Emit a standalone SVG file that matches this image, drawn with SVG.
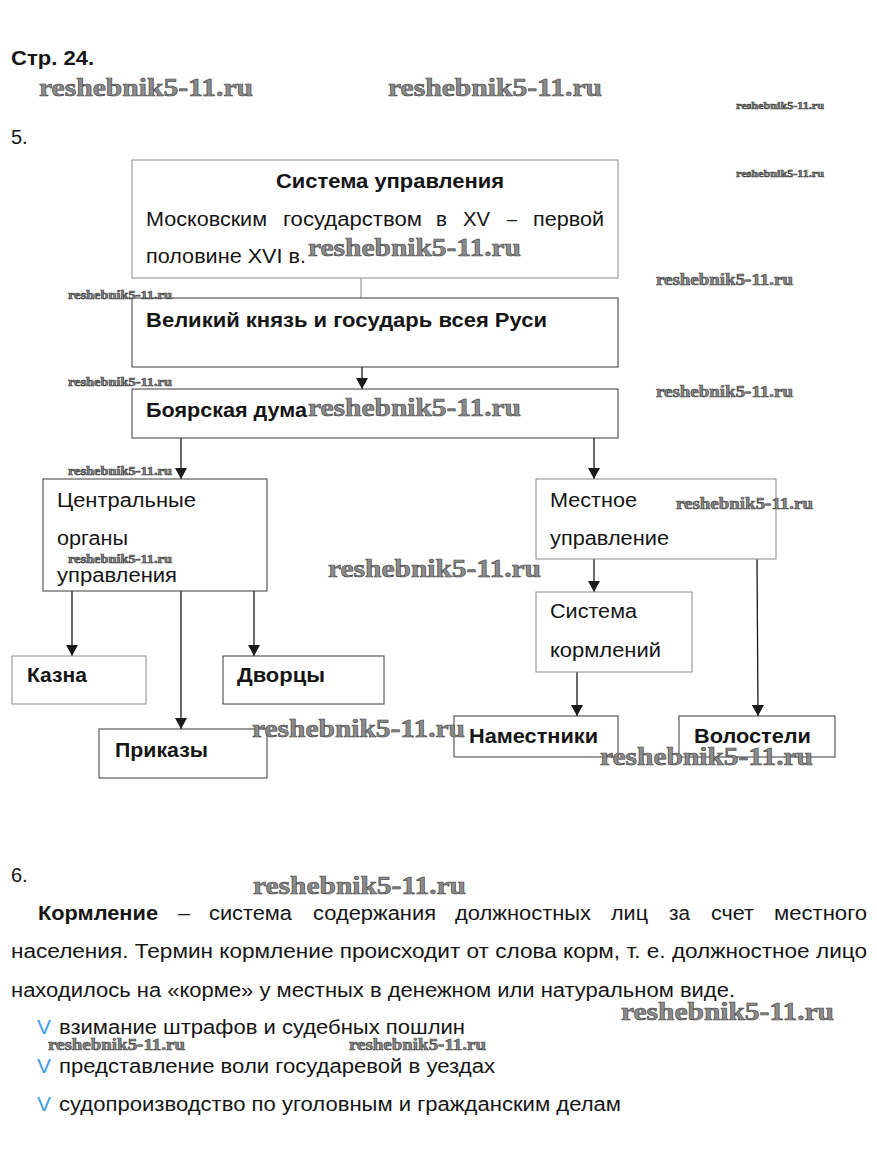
<svg xmlns="http://www.w3.org/2000/svg" width="877" height="1165" viewBox="0 0 877 1165">
<style>
.t{font-family:"Liberation Sans",Arial,sans-serif;font-size:20px;fill:#151515}
.b{font-weight:bold}
.box{fill:#fff;stroke:#3a3a3a;stroke-width:1}
.gbox{fill:#fff;stroke:#8a8a8a;stroke-width:1}
.c{stroke:#1a1a1a;stroke-width:1.3;fill:none}
.wm{font-family:"Liberation Serif","DejaVu Serif",serif;font-weight:bold;fill:#8c8c8c;stroke:#404040;stroke-width:0.6}
.v{font-family:"Liberation Sans",Arial,sans-serif;font-size:21px;fill:#3d9ee0}
</style>
<defs>
<marker id="ah" markerUnits="userSpaceOnUse" markerWidth="11" markerHeight="12" refX="11" refY="6" orient="auto">
<path d="M0,0 L11,6 L0,12 z" fill="#1a1a1a"/>
</marker>
</defs>
<rect width="877" height="1165" fill="#fff"/>

<text class="t b" x="11" y="65" textLength="83" lengthAdjust="spacingAndGlyphs">Стр. 24.</text>
<text class="t" x="11" y="144">5.</text>
<text class="t" x="11" y="882">6.</text>

<g id="connectors">
<line x1="361" y1="278" x2="361" y2="298" stroke="#888" stroke-width="1"/>
<line class="c" x1="362" y1="367" x2="362" y2="389" marker-end="url(#ah)"/>
<line class="c" x1="181" y1="438" x2="181" y2="479" marker-end="url(#ah)"/>
<line class="c" x1="594" y1="438" x2="594" y2="479" marker-end="url(#ah)"/>
<line class="c" x1="72" y1="591" x2="72" y2="656" marker-end="url(#ah)"/>
<line class="c" x1="181" y1="591" x2="181" y2="729" marker-end="url(#ah)"/>
<line class="c" x1="254" y1="591" x2="254" y2="656" marker-end="url(#ah)"/>
<line class="c" x1="594" y1="559" x2="594" y2="592" marker-end="url(#ah)"/>
<line class="c" x1="577" y1="672" x2="577" y2="716" marker-end="url(#ah)"/>
<line class="c" x1="757" y1="559" x2="758" y2="716" marker-end="url(#ah)"/>
</g>

<g id="n-title">
<rect class="gbox" x="132" y="160" width="486" height="118"/>
<text class="t b" x="276" y="188" textLength="228" lengthAdjust="spacingAndGlyphs">Система управления</text>
<text class="t" x="146" y="226" textLength="121" lengthAdjust="spacingAndGlyphs">Московским</text>
<text class="t" x="283" y="226" textLength="139" lengthAdjust="spacingAndGlyphs">государством</text>
<text class="t" x="436" y="226" textLength="11" lengthAdjust="spacingAndGlyphs">в</text>
<text class="t" x="463" y="226" textLength="27" lengthAdjust="spacingAndGlyphs">XV</text>
<text class="t" x="507" y="226" textLength="10" lengthAdjust="spacingAndGlyphs">–</text>
<text class="t" x="533" y="226" textLength="71" lengthAdjust="spacingAndGlyphs">первой</text>
<text class="t" x="146" y="263" textLength="160" lengthAdjust="spacingAndGlyphs">половине XVI в.</text>
</g>

<g id="n-grandprince">
<rect class="box" x="132" y="298" width="486" height="69"/>
<text class="t b" x="146" y="327" textLength="401" lengthAdjust="spacingAndGlyphs">Великий князь и государь всея Руси</text>
</g>

<g id="n-duma">
<rect class="box" x="132" y="389" width="486" height="49"/>
<text class="t b" x="146" y="417" textLength="161" lengthAdjust="spacingAndGlyphs">Боярская дума</text>
</g>

<g id="n-central">
<rect class="box" x="43" y="479" width="224" height="112"/>
<text class="t" x="57" y="507" textLength="139" lengthAdjust="spacingAndGlyphs">Центральные</text>
<text class="t" x="57" y="545" textLength="71" lengthAdjust="spacingAndGlyphs">органы</text>
<text class="t" x="57" y="582" textLength="120" lengthAdjust="spacingAndGlyphs">управления</text>
</g>

<g id="n-local">
<rect class="gbox" x="536" y="479" width="240" height="80"/>
<text class="t" x="550" y="507" textLength="87" lengthAdjust="spacingAndGlyphs">Местное</text>
<text class="t" x="550" y="545" textLength="119" lengthAdjust="spacingAndGlyphs">управление</text>
</g>

<g id="n-kazna">
<rect class="gbox" x="12" y="656" width="134" height="48"/>
<text class="t b" x="27" y="682" textLength="60" lengthAdjust="spacingAndGlyphs">Казна</text>
</g>

<g id="n-dvortsy">
<rect class="box" x="223" y="656" width="161" height="48"/>
<text class="t b" x="237" y="682" textLength="88" lengthAdjust="spacingAndGlyphs">Дворцы</text>
</g>

<g id="n-prikazy">
<rect class="box" x="99" y="729" width="168" height="49"/>
<text class="t b" x="115" y="757" textLength="93" lengthAdjust="spacingAndGlyphs">Приказы</text>
</g>

<g id="n-kormlenie">
<rect class="gbox" x="536" y="592" width="156" height="80"/>
<text class="t" x="550" y="618" textLength="87" lengthAdjust="spacingAndGlyphs">Система</text>
<text class="t" x="550" y="657" textLength="111" lengthAdjust="spacingAndGlyphs">кормлений</text>
</g>

<g id="n-namestniki">
<rect class="box" x="454" y="716" width="164" height="41"/>
<text class="t b" x="469" y="743" textLength="129" lengthAdjust="spacingAndGlyphs">Наместники</text>
</g>

<g id="n-volosteli">
<rect class="box" x="679" y="716" width="156" height="41"/>
<text class="t b" x="694" y="743" textLength="117" lengthAdjust="spacingAndGlyphs">Волостели</text>
</g>

<g id="text6">
<text class="t b" x="38" y="920" font-size="21" textLength="120" lengthAdjust="spacingAndGlyphs">Кормление</text>
<text class="t" x="178" y="920" font-size="21" textLength="12" lengthAdjust="spacingAndGlyphs">–</text>
<text class="t" x="209" y="920" font-size="21" textLength="83" lengthAdjust="spacingAndGlyphs">система</text>
<text class="t" x="313" y="920" font-size="21" textLength="123" lengthAdjust="spacingAndGlyphs">содержания</text>
<text class="t" x="455" y="920" font-size="21" textLength="136" lengthAdjust="spacingAndGlyphs">должностных</text>
<text class="t" x="611" y="920" font-size="21" textLength="37" lengthAdjust="spacingAndGlyphs">лиц</text>
<text class="t" x="669" y="920" font-size="21" textLength="21" lengthAdjust="spacingAndGlyphs">за</text>
<text class="t" x="711" y="920" font-size="21" textLength="43" lengthAdjust="spacingAndGlyphs">счет</text>
<text class="t" x="774" y="920" font-size="21" textLength="93" lengthAdjust="spacingAndGlyphs">местного</text>
<text class="t" x="11" y="958" font-size="21" textLength="856" lengthAdjust="spacingAndGlyphs">населения. Термин кормление происходит от слова корм, т. е. должностное лицо</text>
<text class="t" x="11" y="997" font-size="21" textLength="724" lengthAdjust="spacingAndGlyphs">находилось на «корме» у местных в денежном или натуральном виде.</text>
<text class="v" x="37" y="1034">V</text>
<text class="t" x="59" y="1034" font-size="21" textLength="406" lengthAdjust="spacingAndGlyphs">взимание штрафов и судебных пошлин</text>
<text class="v" x="37" y="1073">V</text>
<text class="t" x="59" y="1073" font-size="21" textLength="436" lengthAdjust="spacingAndGlyphs">представление воли государевой в уездах</text>
<text class="v" x="37" y="1111">V</text>
<text class="t" x="59" y="1111" font-size="21" textLength="562" lengthAdjust="spacingAndGlyphs">судопроизводство по уголовным и гражданским делам</text>
</g>

<g id="watermarks">
<text class="wm" x="39" y="96" font-size="26" textLength="214" lengthAdjust="spacingAndGlyphs">reshebnik5-11.ru</text>
<text class="wm" x="388" y="96" font-size="26" textLength="214" lengthAdjust="spacingAndGlyphs">reshebnik5-11.ru</text>
<text class="wm" x="736" y="109" font-size="11" stroke-width="0.3" textLength="88" lengthAdjust="spacingAndGlyphs">reshebnik5-11.ru</text>
<text class="wm" x="736" y="177" font-size="11" stroke-width="0.3" textLength="88" lengthAdjust="spacingAndGlyphs">reshebnik5-11.ru</text>
<text class="wm" x="308" y="256" font-size="26" textLength="213" lengthAdjust="spacingAndGlyphs">reshebnik5-11.ru</text>
<text class="wm" x="656" y="285" font-size="16" stroke-width="0.4" textLength="137" lengthAdjust="spacingAndGlyphs">reshebnik5-11.ru</text>
<text class="wm" x="68" y="299" font-size="12" stroke-width="0.3" textLength="104" lengthAdjust="spacingAndGlyphs">reshebnik5-11.ru</text>
<text class="wm" x="68" y="386" font-size="12" stroke-width="0.3" textLength="104" lengthAdjust="spacingAndGlyphs">reshebnik5-11.ru</text>
<text class="wm" x="656" y="397" font-size="16" stroke-width="0.4" textLength="137" lengthAdjust="spacingAndGlyphs">reshebnik5-11.ru</text>
<text class="wm" x="308" y="416" font-size="26" textLength="213" lengthAdjust="spacingAndGlyphs">reshebnik5-11.ru</text>
<text class="wm" x="68" y="475" font-size="12" stroke-width="0.3" textLength="104" lengthAdjust="spacingAndGlyphs">reshebnik5-11.ru</text>
<text class="wm" x="676" y="509" font-size="16" stroke-width="0.4" textLength="137" lengthAdjust="spacingAndGlyphs">reshebnik5-11.ru</text>
<text class="wm" x="68" y="563" font-size="12" stroke-width="0.3" textLength="104" lengthAdjust="spacingAndGlyphs">reshebnik5-11.ru</text>
<text class="wm" x="328" y="577" font-size="26" textLength="213" lengthAdjust="spacingAndGlyphs">reshebnik5-11.ru</text>
<text class="wm" x="252" y="737" font-size="26" textLength="213" lengthAdjust="spacingAndGlyphs">reshebnik5-11.ru</text>
<text class="wm" x="600" y="765" font-size="26" textLength="213" lengthAdjust="spacingAndGlyphs">reshebnik5-11.ru</text>
<text class="wm" x="253" y="894" font-size="26" textLength="213" lengthAdjust="spacingAndGlyphs">reshebnik5-11.ru</text>
<text class="wm" x="621" y="1020" font-size="26" textLength="213" lengthAdjust="spacingAndGlyphs">reshebnik5-11.ru</text>
<text class="wm" x="48" y="1050" font-size="16" stroke-width="0.4" textLength="137" lengthAdjust="spacingAndGlyphs">reshebnik5-11.ru</text>
<text class="wm" x="349" y="1050" font-size="16" stroke-width="0.4" textLength="137" lengthAdjust="spacingAndGlyphs">reshebnik5-11.ru</text>
</g>
</svg>
